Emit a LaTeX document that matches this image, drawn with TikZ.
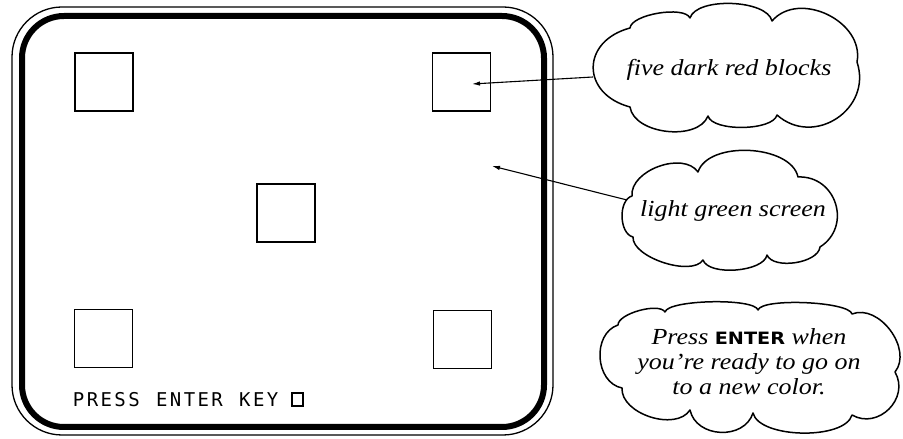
\documentclass[tikz,border=0pt]{standalone}
\usepackage{fontspec}
\usepackage{graphicx}
\setmainfont{Liberation Serif}
\newfontfamily\monof{DejaVu Sans Mono}
\newfontfamily\entf{DejaVu Sans}
\usetikzlibrary{arrows.meta}
\newcommand{\cloudtxt}[1]{\scalebox{1.13}[1]{#1}}
\newcommand{\kc}[1]{\makebox[13.86pt]{#1}}
\begin{document}
\begin{tikzpicture}[x=1pt,y=1pt,
  blk/.style={draw, line width=1.2pt, minimum size=58pt, inner sep=0pt},
  cl/.style={line width=1.5pt, line join=round},
  pf/.style={bend left=75, looseness=#1},
  ctext/.style={font=\fontsize{23pt}{26pt}\selectfont\itshape, inner sep=0pt, anchor=base},
  ptr/.style={line width=1.1pt, -{Latex[length=8pt,width=4.5pt]}}]
\useasboundingbox (0,0) rectangle (903,439);
% screen frame
\draw[line width=1.3pt, rounded corners=50pt] (12,4) rectangle (553,432);
\draw[line width=6pt, rounded corners=42pt] (22,12) rectangle (544,423);
% blocks
\node[blk] (b1) at (104,357) {};
\node[blk] (b2) at (461.5,357) {};
\node[blk] (b3) at (286,226) {};
\node[blk] (b4) at (103.5,100.5) {};
\node[blk] (b5) at (462.5,99.5) {};
% prompt
\node[anchor=base west, inner sep=0pt, font=\monof\fontsize{19pt}{19pt}\selectfont] (prompt) at (71.5,32)
  {\kc{P}\kc{R}\kc{E}\kc{S}\kc{S}\kc{}\kc{E}\kc{N}\kc{T}\kc{E}\kc{R}\kc{}\kc{K}\kc{E}\kc{Y}};
\node[draw, line width=1.8pt, minimum width=11pt, minimum height=13pt, inner sep=0pt, anchor=south west] (cur) at (291,32) {};
% cloud 1
\draw[cl] (630,411) to[pf=0.58] (690,421) to[pf=0.69] (772,418) to[pf=1.12] (857,377)
  to[pf=1.32] (777,324) to[pf=0.61] (708,323) to[pf=0.9] (630,332) to[pf=1.65] cycle;
\node[ctext] (t1) at (729,363) {\cloudtxt{five dark red blocks}};
% cloud 2
\draw[cl] (632,243) to[pf=0.94] (698,267) to[pf=0.85] (798,262) to[pf=1.34] (820,192)
  to[pf=0.78] (767,184) to[pf=0.69] (703,179) to[pf=0.71] (633,202) to[pf=0.9] cycle;
\node[ctext] (t2) at (733,222) {\cloudtxt{light green screen}};
% cloud 3
\draw[cl] (618,114) to[pf=0.6] (665,127) to[pf=0.35] (758,129) to[pf=0.35] (852,125)
  to[pf=1.03] (895,67) to[pf=1.27] (852,24) to[pf=0.68] (753,26) to[pf=1.17] (690,29)
  to[pf=0.93] (622,51) to[pf=1.12] cycle;
\node[ctext] (t3a) at (749,94) {\cloudtxt{Press {\upshape\entf\bfseries\fontsize{17pt}{17pt}\selectfont ENTER} when}};
\node[ctext] (t3b) at (749,69) {\cloudtxt{you're ready to go on}};
\node[ctext] (t3c) at (749,44) {\cloudtxt{to a new color.}};
% pointers
\coordinate (s1) at (593,362);
\coordinate (s2) at (627,239);
\coordinate (p1) at (472,355);
\coordinate (p2) at (492,273);
\draw[ptr] (s1) -- (p1);
\draw[ptr] (s2) -- (p2);
\end{tikzpicture}
\end{document}
